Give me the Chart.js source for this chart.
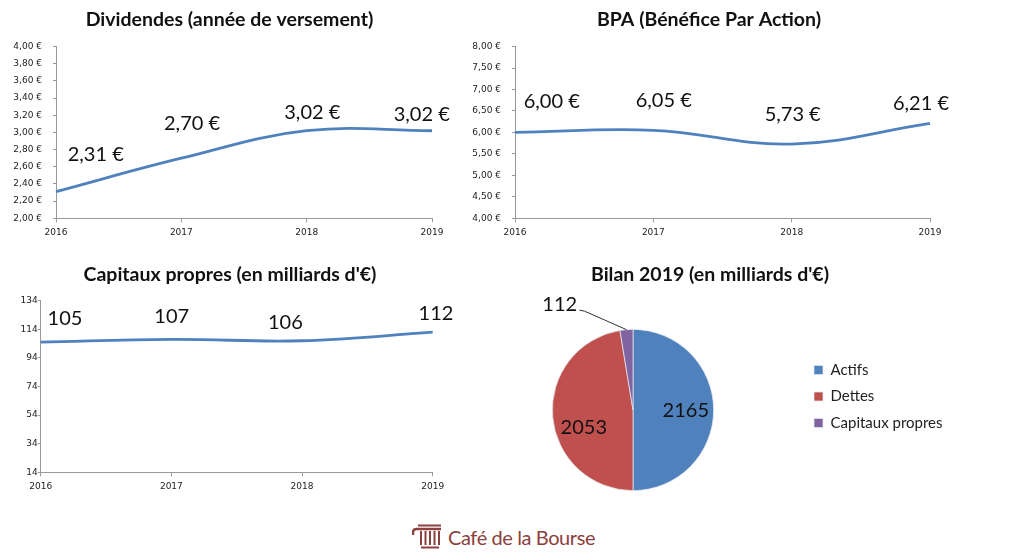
<!DOCTYPE html>
<html lang="fr">
<head>
<meta charset="utf-8">
<title>Café de la Bourse</title>
<script src="https://cdn.jsdelivr.net/npm/chart.js@4"></script>
<style>
html,body{margin:0;padding:0;background:#fff;width:1024px;height:558px;overflow:hidden}
.box{position:absolute}
#logoText{position:absolute;left:448px;top:523px;font:400 20px Lato,sans-serif;letter-spacing:-0.4px;color:#8c3f3d;white-space:nowrap;line-height:28px}
#logo{position:absolute;left:412px;top:524px}
</style>
</head>
<body>
<div class="box" style="left:0;top:0;width:459px;height:250px"><canvas id="c1"></canvas></div>
<div class="box" style="left:469px;top:0;width:480px;height:250px"><canvas id="c2"></canvas></div>
<div class="box" style="left:0;top:255px;width:460px;height:250px"><canvas id="c3"></canvas></div>
<div class="box" style="left:470px;top:255px;width:480px;height:250px"><canvas id="c4"></canvas></div>
<svg id="logo" width="31" height="25" viewBox="0 0 31 25" fill="none" stroke="#8c3f3d">
  <path d="M6 1.5H29" stroke-width="2"/>
  <path d="M1 11V8.5Q1 5 4.5 5H29" stroke-width="2.4"/>
  <path d="M9 7V21M13.5 7V21M18 7V21M22.5 7V21M27 7V21" stroke-width="2"/>
  <path d="M9 23.5H27" stroke-width="2"/>
</svg>
<div id="logoText">Café de la Bourse</div>
<script>
const years = ['2016', '2017', '2018', '2019'];
const dividendes = [2.31, 2.70, 3.02, 3.02];
const bpa = [6.00, 6.05, 5.73, 6.21];
const capitaux = [105, 107, 106, 112];
const bilanLabels = ['Actifs', 'Dettes', 'Capitaux propres'];
const bilanValues = [2165, 2053, 112];
const bilanColors = ['#4f81bd', '#c0504d', '#8064a2'];
const lineColor = '#4f81bd';
const euro = v => v.toFixed(2).replace('.', ',') + ' €';

const labelFont = '20px Lato, sans-serif';
const titleFont = {family: 'Lato, sans-serif', size: 19.5, weight: 'bold', lineHeight: 1.2};
const tickFont = {family: '"DejaVu Sans", sans-serif', size: 9};

const pointLabels = {
  id: 'pointLabels',
  afterLayout(chart) {
    chart.titleBlock.right = chart.width;
  },
  afterDatasetsDraw(chart, args, opts) {
    const c = chart.ctx;
    const pts = chart.getDatasetMeta(0).data;
    c.save();
    c.font = labelFont;
    c.fillStyle = '#111';
    c.textAlign = 'center';
    c.textBaseline = 'middle';
    pts.forEach((p, i) => {
      c.fillText(opts.texts[i], p.x + opts.offsets[i][0], p.y + opts.offsets[i][1]);
    });
    c.restore();
  }
};

function lineChart(id, data, min, max, step, fmt, yWidth, padRight, titleText, titleTop, titleBottom, plotH, tickPad, offsets) {
  return new Chart(document.getElementById(id), {
    type: 'line',
    data: {labels: years, datasets: [{
      data, borderColor: lineColor, borderWidth: 2.8, pointRadius: 0,
      tension: 0.4, fill: false, borderCapStyle: 'butt', clip: 4
    }]},
    plugins: [pointLabels],
    options: {
      responsive: true, maintainAspectRatio: false, animation: false,
      layout: {padding: {left: 0, right: padRight, top: 0, bottom: 250 - plotH - 24}},
      plugins: {
        legend: {display: false}, tooltip: {enabled: false},
        title: {display: true, text: titleText, font: titleFont, color: '#111',
                padding: {top: titleTop, bottom: titleBottom}},
        pointLabels: {texts: data.map(fmt), offsets}
      },
      scales: {
        x: {
          offset: false,
          afterFit(s) { s.height = 24; },
          border: {color: '#999', width: 1},
          grid: {drawOnChartArea: false, color: '#999', tickLength: 4},
          ticks: {font: tickFont, color: '#222', maxRotation: 0, autoSkip: false, padding: 5}
        },
        y: {
          min, max,
          afterFit(s) { s.width = yWidth; },
          border: {color: '#999', width: 1},
          grid: {drawOnChartArea: false, color: '#999', tickLength: 3},
          ticks: {font: tickFont, color: '#222', stepSize: step, autoSkip: false,
                  padding: tickPad, callback: v => (fmt === String ? String(v) : euro(v))}
        }
      }
    }
  });
}

lineChart('c1', dividendes, 2, 4, 0.2, euro, 56, 27, 'Dividendes (année de versement)', 8.1, 15.1, 218.3, 11,
  [[39.7,-36.7],[10.7,-34.2],[5.6,-18],[-10.3,-16]]);
lineChart('c2', bpa, 4, 8, 0.5, euro, 46, 19, 'BPA (Bénéfice Par Action)', 8.1, 15.1, 218.3, 11,
  [[36.7,-31.2],[10.4,-29.3],[1,-29],[-9,-19.7]]);
lineChart('c3', capitaux, 14, 134, 20, String, 40.7, 27.3, "Capitaux propres (en milliards d'€)", 7.6, 14.7, 217.3, 0,
  [[24.3,-23.9],[0.4,-22.6],[-16.7,-18],[3.3,-18.9]]);

const pieLayout = {
  id: 'pieLayout',
  afterLayout(chart) {
    const a = chart.chartArea;
    a.left = 82; a.right = 244; a.top = 74; a.bottom = 236;
    a.width = 162; a.height = 162;
    const l = chart.legend;
    const pad = l.options.labels.padding;
    l.left = 344 - pad;
    l.top = 107.5 - pad; l.bottom = l.top + l.height;
  },
  afterDatasetsDraw(chart) {
    const c = chart.ctx;
    const arcs = chart.getDatasetMeta(0).data;
    c.save();
    c.font = labelFont;
    c.fillStyle = '#111';
    c.textAlign = 'center';
    c.textBaseline = 'middle';
    const shift = [[12.5, 0.7], [-9, 14], [-70, -65.6]];
    arcs.forEach((a, i) => {
      const m = a.getCenterPoint();
      c.fillText(String(bilanValues[i]), m.x + shift[i][0], m.y + shift[i][1]);
    });
    const last = arcs[2];
    const mid = (last.startAngle + last.endAngle) / 2;
    const ex = last.x + Math.cos(mid) * last.outerRadius;
    const ey = last.y + Math.sin(mid) * last.outerRadius;
    c.strokeStyle = '#333';
    c.lineWidth = 1;
    c.beginPath();
    c.moveTo(ex - 47, ey - 19.5);
    c.lineTo(ex - 42, ey - 18.5);
    c.lineTo(ex, ey);
    c.stroke();
    c.restore();
  }
};

new Chart(document.getElementById('c4'), {
  type: 'pie',
  data: {labels: bilanLabels, datasets: [{
    data: bilanValues, backgroundColor: bilanColors, borderColor: '#e4e8ef', borderWidth: 0.75
  }]},
  plugins: [pieLayout],
  options: {
    responsive: true, maintainAspectRatio: false, animation: false,
    plugins: {
      tooltip: {enabled: false},
      title: {display: true, text: "Bilan 2019 (en milliards d'€)", font: titleFont, color: '#111',
              padding: {top: 7.6, bottom: 14.7}},
      legend: {position: 'right', align: 'start', labels: {
        boxWidth: 9, boxHeight: 9, padding: 11.5, color: '#222',
        font: {family: 'Lato, sans-serif', size: 15}
      }}
    }
  }
});
</script>
</body>
</html>
